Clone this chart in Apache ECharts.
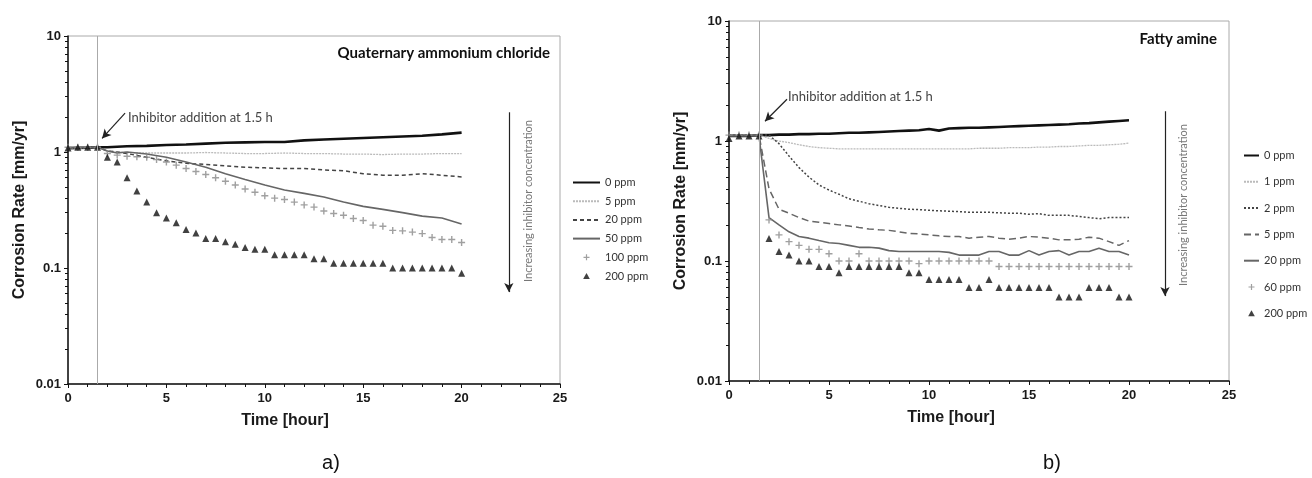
<!DOCTYPE html>
<html>
<head>
<meta charset="utf-8">
<script src="https://cdn.jsdelivr.net/npm/echarts@6/dist/echarts.min.js"></script>
<style>
  html, body { margin: 0; padding: 0; background: #fff; }
  #chart { width: 1312px; height: 478px; }
</style>
</head>
<body>
<div id="chart"></div>
<script>
// time grids [hour]
const hoursA = [0, 1, 1.5, 2, 2.5, 3, 4, 5, 6, 7, 8, 9, 10, 11, 12, 13, 14, 15, 16, 17, 18, 19, 20]
const hoursHalf = [0, 0.5, 1, 1.5, 2, 2.5, 3, 3.5, 4, 4.5, 5, 5.5, 6, 6.5, 7, 7.5, 8, 8.5, 9, 9.5, 10,
  10.5, 11, 11.5, 12, 12.5, 13, 13.5, 14, 14.5, 15, 15.5, 16, 16.5, 17, 17.5, 18, 18.5, 19, 19.5, 20]

// a) quaternary ammonium chloride, corrosion rate [mm/yr]
const quatNames = ['0 ppm', '5 ppm', '20 ppm', '50 ppm', '100 ppm', '200 ppm']
const quat0 = [1.08, 1.09, 1.1, 1.1, 1.11, 1.12, 1.13, 1.15, 1.16, 1.18, 1.2, 1.21, 1.22, 1.22, 1.26, 1.28, 1.3, 1.32, 1.34, 1.36, 1.38, 1.42, 1.47]
const quat5 = [1.08, 1.09, 1.1, 1.02, 1.0, 0.99, 0.98, 0.98, 0.98, 0.99, 0.98, 0.97, 0.97, 0.98, 0.97, 0.97, 0.96, 0.96, 0.95, 0.96, 0.96, 0.97, 0.97]
const quat20 = [1.08, 1.09, 1.1, 1.02, 1.0, 0.97, 0.9, 0.84, 0.8, 0.78, 0.76, 0.74, 0.73, 0.72, 0.72, 0.7, 0.69, 0.65, 0.63, 0.63, 0.65, 0.63, 0.61]
const quat50 = [1.08, 1.1, 1.1, 1.02, 0.98, 1.0, 0.96, 0.9, 0.82, 0.74, 0.65, 0.58, 0.52, 0.47, 0.44, 0.41, 0.37, 0.34, 0.32, 0.3, 0.28, 0.27, 0.24]
const quat100 = [1.1, 1.1, 1.1, 1.1, 0.97, 0.94, 0.92, 0.91, 0.9, 0.86, 0.82, 0.77, 0.72, 0.68, 0.64, 0.6, 0.56, 0.52, 0.48, 0.45, 0.42,
  0.4, 0.39, 0.37, 0.35, 0.335, 0.31, 0.295, 0.285, 0.267, 0.257, 0.234, 0.229, 0.211, 0.209, 0.204, 0.198, 0.183, 0.176, 0.176, 0.166]
const quat200 = [1.08, 1.1, 1.1, 1.1, 0.9, 0.82, 0.6, 0.46, 0.37, 0.3, 0.27, 0.245, 0.215, 0.2, 0.18, 0.18, 0.168, 0.16, 0.15, 0.145, 0.145,
  0.13, 0.13, 0.13, 0.13, 0.12, 0.12, 0.11, 0.11, 0.11, 0.11, 0.11, 0.11, 0.1, 0.1, 0.1, 0.1, 0.1, 0.1, 0.1, 0.09]

// b) fatty amine, corrosion rate [mm/yr]
const fattyNames = ['0 ppm', '1 ppm', '2 ppm', '5 ppm', '20 ppm', '60 ppm', '200 ppm']
const fatty0 = [1.1, 1.1, 1.1, 1.12, 1.12, 1.13, 1.13, 1.14, 1.14, 1.15, 1.15, 1.16, 1.17, 1.17, 1.18, 1.19, 1.2, 1.21, 1.22, 1.23, 1.26,
  1.22, 1.27, 1.28, 1.29, 1.29, 1.3, 1.31, 1.32, 1.33, 1.34, 1.35, 1.36, 1.37, 1.38, 1.4, 1.41, 1.43, 1.45, 1.47, 1.49]
const fatty1 = [1.12, 1.12, 1.12, 1.12, 1.05, 1.0, 0.97, 0.93, 0.9, 0.88, 0.87, 0.86, 0.86, 0.86, 0.86, 0.86, 0.86, 0.86, 0.86, 0.86, 0.86,
  0.86, 0.86, 0.86, 0.86, 0.87, 0.87, 0.87, 0.88, 0.88, 0.88, 0.89, 0.89, 0.9, 0.9, 0.91, 0.92, 0.92, 0.93, 0.94, 0.96]
const fatty2 = [1.12, 1.12, 1.12, 1.12, 1.12, 0.95, 0.75, 0.6, 0.5, 0.43, 0.39, 0.36, 0.33, 0.315, 0.3, 0.29, 0.28, 0.275, 0.27, 0.268, 0.265,
  0.262, 0.26, 0.258, 0.255, 0.255, 0.255, 0.252, 0.25, 0.25, 0.245, 0.248, 0.24, 0.24, 0.24, 0.235, 0.23, 0.225, 0.23, 0.23, 0.23]
const fatty5 = [1.12, 1.12, 1.12, 1.12, 0.4, 0.27, 0.25, 0.23, 0.215, 0.21, 0.205, 0.2, 0.196, 0.19, 0.185, 0.182, 0.18, 0.175, 0.17, 0.168, 0.165,
  0.162, 0.16, 0.16, 0.155, 0.158, 0.16, 0.155, 0.152, 0.155, 0.16, 0.158, 0.155, 0.15, 0.15, 0.152, 0.158, 0.155, 0.145, 0.135, 0.148]
const fatty20 = [1.1, 1.1, 1.1, 1.1, 0.23, 0.2, 0.175, 0.16, 0.155, 0.148, 0.142, 0.14, 0.135, 0.13, 0.13, 0.128, 0.122, 0.12, 0.12, 0.12, 0.12,
  0.12, 0.118, 0.112, 0.112, 0.112, 0.12, 0.12, 0.112, 0.112, 0.122, 0.112, 0.12, 0.122, 0.112, 0.12, 0.12, 0.128, 0.12, 0.12, 0.112]
const fatty60 = [1.12, 1.12, 1.12, 1.12, 0.22, 0.165, 0.145, 0.135, 0.125, 0.125, 0.115, 0.1, 0.1, 0.115, 0.1, 0.1, 0.1, 0.1, 0.1, 0.095, 0.1,
  0.1, 0.1, 0.1, 0.1, 0.1, 0.1, 0.09, 0.09, 0.09, 0.09, 0.09, 0.09, 0.09, 0.09, 0.09, 0.09, 0.09, 0.09, 0.09, 0.09]
const fatty200 = [1.05, 1.1, 1.1, 1.1, 0.154, 0.12, 0.112, 0.1, 0.1, 0.09, 0.09, 0.08, 0.09, 0.09, 0.09, 0.09, 0.09, 0.09, 0.08, 0.08, 0.07,
  0.07, 0.07, 0.07, 0.06, 0.06, 0.07, 0.06, 0.06, 0.06, 0.06, 0.06, 0.06, 0.05, 0.05, 0.05, 0.06, 0.06, 0.06, 0.05, 0.05]

const yTicks = [0.01, 0.1, 1, 10]
const xTicks = [0, 5, 10, 15, 20, 25]

const pair = (hours, vals) => vals.map((v, i) => [hours[i], v])
// right-hand names carry an invisible mark so the two legends stay apart
const tag = '\u200b'
const plus = 'path://M4,0L6,0L6,4L10,4L10,6L6,6L6,10L4,10L4,6L0,6L0,4L4,4Z'
const tri = 'path://M5,0L10,9L0,9Z'
const tickFont = { fontFamily: 'Liberation Sans', fontWeight: 'bold', fontSize: 13, color: '#1a1a1a' }

const makeX = (idx, shift) => ({
  type: 'value', gridIndex: idx, min: xTicks[0], max: xTicks[xTicks.length - 1], interval: 5,
  name: 'Time [hour]', nameLocation: 'middle', nameGap: 29,
  nameTextStyle: { fontFamily: 'Liberation Sans', fontWeight: 'bold', fontSize: 16, color: '#1a1a1a', padding: [0, shift, 0, 0] },
  axisLine: { lineStyle: { color: '#111', width: 1.5 } },
  axisTick: { length: 4, lineStyle: { color: '#111' } },
  minorTick: { show: true, splitNumber: 5, length: 3, lineStyle: { color: '#111' } },
  splitLine: { show: false },
  axisLabel: { ...tickFont, margin: 8 }
})

const makeY = (idx) => ({
  type: 'log', logBase: 10, gridIndex: idx, min: yTicks[0], max: yTicks[yTicks.length - 1],
  name: 'Corrosion Rate [mm/yr]', nameLocation: 'middle', nameGap: 40,
  nameTextStyle: { fontFamily: 'Liberation Sans', fontWeight: 'bold', fontSize: 16, color: '#1a1a1a' },
  axisLine: { show: true, lineStyle: { color: '#111', width: 1.5 } },
  axisTick: { length: 4, lineStyle: { color: '#111' } },
  minorTick: { show: true, splitNumber: 9, length: 3, lineStyle: { color: '#111' } },
  splitLine: { show: false },
  axisLabel: { ...tickFont, margin: 7, formatter: v => String(+(+v).toPrecision(3)) }
})

const lineSeries = (name, idx, data, color, width, type) => ({
  name, type: 'line', xAxisIndex: idx, yAxisIndex: idx, data, symbol: 'none',
  lineStyle: { color, width, type }, itemStyle: { color }, z: 3
})
const markSeries = (name, idx, data, symbol, color, size) => ({
  name, type: 'scatter', xAxisIndex: idx, yAxisIndex: idx, data, symbol, symbolSize: size,
  itemStyle: { color }, z: 4
})

const arrowLine = (from, to) => ({
  silent: true, symbol: ['none', 'arrow'], symbolSize: [7, 9],
  lineStyle: { color: '#222', width: 1.2, type: 'solid' }, label: { show: false },
  data: [[{ coord: from }, { coord: to }]]
})
const guideLine = {
  silent: true, symbol: 'none', label: { show: false },
  lineStyle: { color: '#aaa', width: 1, type: 'solid' }, data: [{ xAxis: 1.5 }]
}

const series = [
  { ...lineSeries(quatNames[0], 0, pair(hoursA, quat0), '#111', 2.6, 'solid'), markLine: guideLine },
  { ...lineSeries(quatNames[1], 0, pair(hoursA, quat5), '#bbb', 1.3, [2, 1]), markLine: arrowLine([2.9, 2.16], [1.73, 1.31]) },
  { ...lineSeries(quatNames[2], 0, pair(hoursA, quat20), '#444', 1.5, [4, 3]), markLine: arrowLine([22.4, 2.2], [22.4, 0.062]) },
  lineSeries(quatNames[3], 0, pair(hoursA, quat50), '#666', 1.6, 'solid'),
  markSeries(quatNames[4], 0, pair(hoursHalf, quat100), plus, '#888', 7),
  markSeries(quatNames[5], 0, pair(hoursHalf, quat200), tri, '#111', 7),

  { ...lineSeries(fattyNames[0] + tag, 1, pair(hoursHalf, fatty0), '#111', 2.6, 'solid'), markLine: guideLine },
  { ...lineSeries(fattyNames[1] + tag, 1, pair(hoursHalf, fatty1), '#bbb', 1.3, [2, 1]), markLine: arrowLine([2.9, 2.23], [1.8, 1.46]) },
  { ...lineSeries(fattyNames[2] + tag, 1, pair(hoursHalf, fatty2), '#444', 1.5, [2, 2]), markLine: arrowLine([21.8, 1.77], [21.8, 0.051]) },
  lineSeries(fattyNames[3] + tag, 1, pair(hoursHalf, fatty5), '#666', 1.5, [7, 4]),
  lineSeries(fattyNames[4] + tag, 1, pair(hoursHalf, fatty20), '#666', 1.6, 'solid'),
  markSeries(fattyNames[5] + tag, 1, pair(hoursHalf, fatty60), plus, '#888', 7),
  markSeries(fattyNames[6] + tag, 1, pair(hoursHalf, fatty200), tri, '#111', 7)
]

const legendText = { fontFamily: 'Lato', fontSize: 11, color: '#333' }
const strip = name => name.replace(tag, '')
// lines show only their stroke in the legend, markers only their symbol
const legendItems = (names, markerFrom, suffix) => names.map((n, i) => i < markerFrom
  ? { name: n + suffix, itemStyle: { opacity: 0 } }
  : { name: n + suffix, lineStyle: { opacity: 0 } })

const annotation = (x, y, text, extra) => ({
  type: 'text', x, y,
  style: { text, fontFamily: 'Lato', fontSize: 13, fill: '#444', verticalAlign: 'middle', ...extra }
})

const chart = echarts.init(document.getElementById('chart'), null, { renderer: 'canvas' })
chart.setOption({
  backgroundColor: '#fff',
  animation: false,
  grid: [
    { left: 68, top: 36, width: 492, height: 348, show: true, borderColor: '#aaa', borderWidth: 1 },
    { left: 729, top: 21, width: 500, height: 360, show: true, borderColor: '#aaa', borderWidth: 1 }
  ],
  xAxis: [makeX(0, 58), makeX(1, 56)],
  yAxis: [makeY(0), makeY(1)],
  legend: [
    {
      data: legendItems(quatNames, 4, ''), orient: 'vertical', left: 572, top: 177, padding: 0,
      itemWidth: 27, itemHeight: 6, itemGap: 7.7, symbolKeepAspect: true,
      textStyle: legendText, formatter: strip, selectedMode: false
    },
    {
      data: legendItems(fattyNames, 5, tag), orient: 'vertical', left: 1243, top: 150, padding: 0,
      itemWidth: 15, itemHeight: 6, itemGap: 15.3, symbolKeepAspect: true,
      textStyle: legendText, formatter: strip, selectedMode: false
    }
  ],
  graphic: [
    annotation(550, 53, 'Quaternary ammonium chloride', { fontSize: 15, fontWeight: 'bold', fill: '#111', align: 'right' }),
    annotation(1217, 39, 'Fatty amine', { fontSize: 15, fontWeight: 'bold', fill: '#111', align: 'right' }),
    annotation(128, 118, 'Inhibitor addition at 1.5 h'),
    annotation(788, 97, 'Inhibitor addition at 1.5 h'),
    {
      type: 'text', x: 528, y: 201, rotation: Math.PI / 2,
      style: { text: 'Increasing inhibitor concentration', fontFamily: 'Lato', fontSize: 11, fill: '#777', align: 'center', verticalAlign: 'middle' }
    },
    {
      type: 'text', x: 1183, y: 205, rotation: Math.PI / 2,
      style: { text: 'Increasing inhibitor concentration', fontFamily: 'Lato', fontSize: 11, fill: '#777', align: 'center', verticalAlign: 'middle' }
    },
    annotation(331, 463, 'a)', { fontFamily: 'Liberation Sans', fontSize: 20, fill: '#111', align: 'center' }),
    annotation(1052, 463, 'b)', { fontFamily: 'Liberation Sans', fontSize: 20, fill: '#111', align: 'center' })
  ],
  series
})
</script>
</body>
</html>
